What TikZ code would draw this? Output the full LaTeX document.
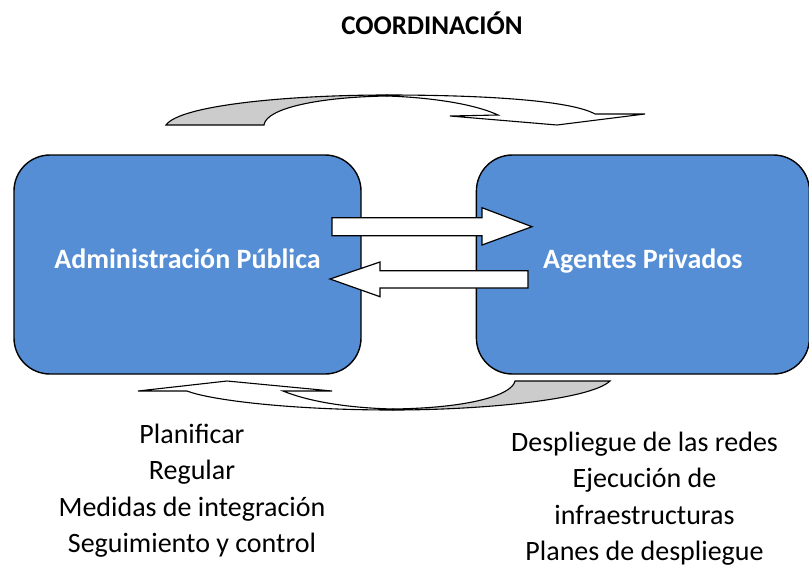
\documentclass[tikz,border=0pt]{standalone}
\usepackage{fontspec}
\setmainfont{Carlito}
\usetikzlibrary{positioning}
\definecolor{boxblue}{RGB}{85,142,213}
\definecolor{arrowgray}{RGB}{204,204,204}

\begin{document}
\begin{tikzpicture}[x=1pt,y=-1pt,
    agent/.style={draw=black,line width=1.4pt,fill=boxblue,rounded corners=36pt,
      text=white,font=\fontsize{28}{32}\selectfont\bfseries,minimum height=219pt,
      text height=21pt,text depth=14pt},
    blockarrow/.style={draw=black,line width=1.2pt,fill=white,line join=miter},
    curvedarrow/.style={draw=black,line width=1.1pt,fill=white},
    task/.style={align=center,inner sep=0pt,anchor=north,
      font=\fontsize{28}{36.3}\selectfont}]

  \useasboundingbox (0,0) rectangle (809,571);

  \node[anchor=base,font=\fontsize{27}{32}\selectfont\bfseries] (title) at (432,34) {COORDINACIÓN};

  % the two actors
  \node[agent,minimum width=347pt] (admin) at (187.5,264.5) {Administración Pública};
  \node[agent,minimum width=333pt,right=114pt of admin] (agentes) {Agentes Privados};

  % straight block arrows between them
  \draw[blockarrow] (332,217.7) -- (482,217.7) -- (482,207.7) -- (532,226.7)
    -- (482,245) -- (482,235.7) -- (332,235.7) -- cycle;
  \draw[blockarrow] (528,270.7) -- (380,270.7) -- (380,262) -- (330,279)
    -- (380,296.7) -- (380,288) -- (528,288) -- cycle;

  % curved arrow on top
  \draw[curvedarrow] (387,95) .. controls (480,95) and (570,100) .. (595,114)
    -- (645,114) -- (557,125) -- (450,116) -- (498,115)
    .. controls (470,102) and (420,97) .. (387,96) -- cycle;
  \draw[curvedarrow,fill=arrowgray] (166,125) .. controls (180,105) and (290,95) .. (387,95)
    -- (387,96) .. controls (320,97) and (266,108) .. (264,125) -- cycle;

  % curved arrow below
  \draw[curvedarrow] (393,410) .. controls (290,410) and (210,400) .. (187,391)
    -- (138,391) -- (227,381) -- (332,391) -- (283,391)
    .. controls (310,402) and (350,408) .. (393,409) -- cycle;
  \draw[curvedarrow,fill=arrowgray] (610,381) .. controls (590,400) and (480,410) .. (393,410)
    -- (393,409) .. controls (470,408) and (512,395) .. (515,381) -- cycle;

  % tasks of each actor
  \node[task] (tareasadmin) at (192,424)
    {Planificar\\Regular\\Medidas de integración\\Seguimiento y control};
  \node[task] (tareasagentes) at (644.5,432)
    {Despliegue de las redes\\Ejecución de\\infraestructuras\\Planes de despliegue};
\end{tikzpicture}
\end{document}
